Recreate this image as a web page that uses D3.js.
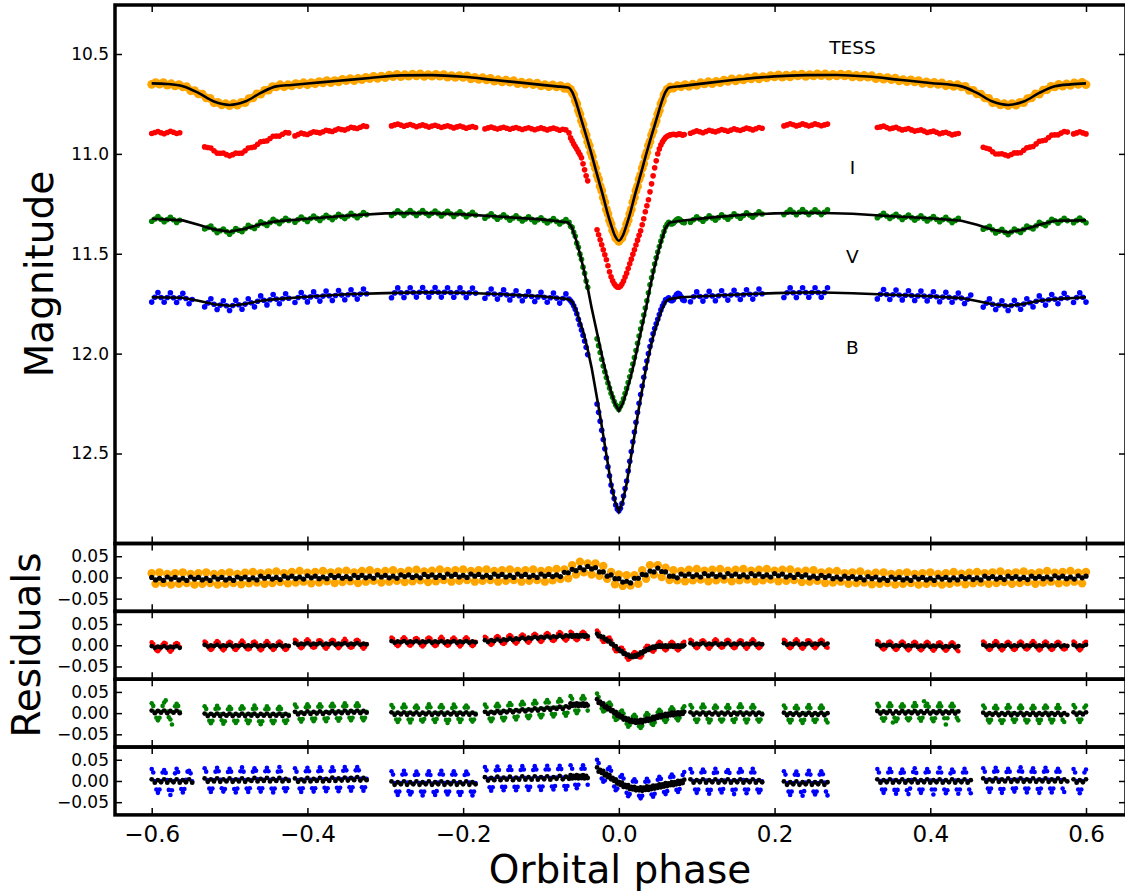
<!DOCTYPE html>
<html><head><meta charset="utf-8">
<script src="https://cdn.jsdelivr.net/npm/d3@7"></script>
<style>body{margin:0;background:#fff}svg{display:block}</style>
</head><body><svg id="c" width="1125" height="894"></svg>
<script>
// ---------------- DATA ----------------
const X_TICKS = [-0.6,-0.4,-0.2,0.0,0.2,0.4,0.6];
const MAG_TICKS = [10.5,11.0,11.5,12.0,12.5];
const RES_TICKS = [-0.05,0.00,0.05];
const LABELS = ["TESS","I","V","B"];
const LABEL_MAG = [10.5,11.1,11.545,12.0];

// TESS observed (three runs: start phase, step)
const TESS_START = [-0.600,-0.068,0.070];
const TESS_STEP = [0.005,0.002,0.005];
const TESS_mag = [
[10.652,10.643,10.651,10.643,10.656,10.649,10.660,10.653,10.665,10.664,
10.684,10.683,10.700,10.701,10.720,10.722,10.744,10.742,10.755,10.749,
10.758,10.748,10.756,10.742,10.743,10.723,10.720,10.700,10.701,10.682,
10.681,10.663,10.665,10.654,10.664,10.654,10.660,10.648,10.654,10.644,
10.654,10.643,10.649,10.638,10.644,10.633,10.643,10.633,10.639,10.627,
10.633,10.623,10.633,10.622,10.628,10.617,10.623,10.612,10.622,10.611,
10.618,10.606,10.613,10.602,10.613,10.604,10.611,10.601,10.609,10.600,
10.612,10.603,10.611,10.602,10.611,10.603,10.616,10.608,10.617,10.608,
10.617,10.610,10.624,10.617,10.627,10.619,10.629,10.622,10.636,10.629,
10.639,10.631,10.641,10.634,10.648,10.641,10.651,10.643,10.653,10.646,
10.660,10.653,10.663,10.655,10.665,10.658,10.672],
[10.670,10.665,10.675,10.677,10.693,10.705,10.733,10.750,10.782,10.802,
10.834,10.854,10.886,10.906,10.938,10.959,10.992,11.014,11.049,11.072,
11.106,11.128,11.162,11.184,11.218,11.242,11.278,11.300,11.332,11.352,
11.382,11.398,11.421,11.427,11.438,11.427,11.421,11.398,11.382,11.352,
11.332,11.300,11.278,11.242,11.218,11.184,11.162,11.128,11.106,11.072,
11.049,11.014,10.992,10.959,10.938,10.906,10.886,10.854,10.834,10.802,
10.782,10.750,10.733,10.705,10.693,10.677,10.675,10.665,10.670],
[10.671,10.659,10.664,10.653,10.662,10.651,10.657,10.644,10.650,10.639,
10.648,10.637,10.643,10.631,10.637,10.625,10.635,10.624,10.630,10.618,
10.624,10.613,10.624,10.613,10.620,10.608,10.615,10.605,10.616,10.606,
10.614,10.603,10.610,10.601,10.612,10.603,10.610,10.600,10.608,10.599,
10.611,10.602,10.610,10.601,10.610,10.602,10.615,10.607,10.616,10.607,
10.616,10.609,10.623,10.616,10.626,10.618,10.628,10.621,10.635,10.628,
10.638,10.630,10.640,10.633,10.647,10.640,10.650,10.642,10.652,10.645,
10.659,10.652,10.662,10.654,10.665,10.662,10.682,10.682,10.700,10.701,
10.720,10.722,10.744,10.742,10.755,10.749,10.758,10.748,10.756,10.742,
10.743,10.723,10.720,10.700,10.701,10.681,10.679,10.662,10.665,10.652,
10.661,10.650,10.657,10.645,10.652,10.642,10.653]
];
// TESS residuals (mmag), phase -0.600 step 0.005
const TESS_RES_START = [-0.600];
const TESS_RES_STEP = [0.005];
const TESS_res = [[10,-15,12,-13,8,-17,10,-15,12,-13,
8,-17,10,-15,12,-13,8,-17,10,-15,
12,-13,8,-16,11,-14,13,-12,10,-15,
12,-13,14,-11,10,-14,13,-12,15,-10,
11,-14,13,-12,15,-9,12,-13,14,-11,
16,-9,12,-13,15,-10,17,-8,13,-12,
15,-10,17,-8,13,-11,16,-9,18,-7,
14,-11,16,-9,19,-6,15,-10,17,-8,
19,-6,15,-10,17,-8,19,-6,15,-10,
17,-8,19,-6,15,-10,17,-8,19,-6,
15,-10,17,-7,20,-4,19,-2,29,7,
37,12,33,7,33,4,27,-3,13,-16,
7,-20,5,-19,5,-15,17,-3,29,7,
29,1,23,-6,17,-7,15,-9,18,-7,
20,-5,16,-9,18,-7,20,-5,16,-9,
18,-7,20,-5,16,-9,18,-7,20,-5,
16,-9,18,-8,19,-6,14,-11,16,-10,
17,-8,12,-13,14,-12,15,-10,10,-15,
12,-13,14,-12,9,-16,11,-15,12,-13,
8,-17,10,-15,12,-13,8,-17,10,-15,
12,-13,8,-17,10,-15,13,-12,9,-16,
11,-14,13,-12,10,-15,12,-13,14,-11,
10,-15,12,-13,14,-11,10,-15,12,-12,
15,-10,11,-14,13,-12,15,-10,11,-14,13]];
const TESS_res2 = [[0,-6,-2,-7,1,-4,0,-6,-2,-7,
1,-4,0,-6,-2,-7,1,-4,0,-6,
-2,-7,1,-3,1,-5,-1,-6,3,-2,
2,-4,0,-5,3,-1,3,-3,1,-4,
4,-1,3,-3,1,-3,5,0,4,-2,
2,-3,5,0,5,-1,3,-2,6,1,
5,-1,3,-2,6,2,6,0,4,-1,
7,2,6,0,5,0,8,3,7,1,
5,0,8,3,7,1,5,0,8,3,
7,1,5,0,8,3,7,1,5,0,
8,3,7,2,6,2,12,11,19,16,
23,18,26,20,23,13,13,3,6,-3,
-3,-11,-9,-13,-2,-2,7,6,15,13,
22,14,13,3,3,-1,8,4,8,2,
6,1,9,4,8,2,6,1,9,4,
8,2,6,1,9,4,8,2,6,1,
9,4,8,1,5,0,7,2,6,-1,
3,-2,5,0,4,-3,1,-4,3,-2,
2,-4,0,-6,2,-3,1,-6,-2,-7,
1,-4,0,-6,-2,-7,1,-4,0,-6,
-2,-7,1,-4,0,-6,-1,-6,2,-3,
1,-5,-1,-6,3,-2,2,-4,0,-5,
3,-2,2,-4,0,-5,3,-2,2,-3,
1,-4,4,-1,3,-3,1,-4,4,-1,3]];

// Ground-based runs (start phase, step) shared by I, V, B
const SEG_START = [-0.600,-0.532,-0.416,-0.292,-0.172,-0.062,-0.028,0.092,0.212,0.332,0.468,0.584];
const SEG_STEP  = [0.004,0.004,0.004,0.004,0.004,0.002,0.002,0.004,0.004,0.004,0.004,0.004];
const RES_STEP  = [0.002,0.002,0.002,0.002,0.002,0.002,0.002,0.002,0.002,0.002,0.002,0.002];

const I_mag = [
[10.898,10.893,10.888,10.894,10.899,10.893,10.887,10.892,10.898,10.894],
[10.965,10.968,10.971,10.984,10.996,10.997,10.996,11.004,11.010,11.004,10.996,10.997,10.996,10.984,10.971,10.968,10.965,10.952,10.939,10.937,10.935,10.923,10.912,10.911,10.911,10.902,10.893,10.895],
[10.910,10.903,10.896,10.900,10.903,10.896,10.889,10.892,10.895,10.889,10.882,10.885,10.888,10.881,10.874,10.878,10.881,10.874,10.867,10.870,10.873,10.867,10.860,10.863],
[10.860,10.855,10.851,10.856,10.862,10.857,10.853,10.858,10.864,10.859,10.855,10.860,10.866,10.861,10.857,10.862,10.868,10.863,10.859,10.864,10.870,10.865,10.861,10.866,10.872,10.867,10.863,10.868],
[10.875,10.870,10.866,10.871,10.876,10.871,10.867,10.872,10.877,10.872,10.868,10.873,10.878,10.873,10.869,10.874,10.879,10.874,10.870,10.875,10.880,10.875,10.871,10.876,10.882,10.877,10.880,10.895],
[10.920,10.935,10.950,10.963,10.976,10.990,11.003,11.020,11.050,11.080,11.110,11.135],
[11.380,11.405,11.430,11.455,11.480,11.505,11.530,11.560,11.590,11.615,11.635,11.650,11.660,11.667,11.668,11.663,11.652,11.637,11.617,11.597,11.574,11.550,11.527,11.503,11.480,11.456,11.432,11.408,11.385,11.355,11.325,11.290,11.260,11.230,11.190,11.150,11.110,11.070,11.035,11.000,10.975,10.955,10.940,10.928,10.918,10.912,10.908,10.905,10.903,10.902,10.903,10.905,10.902,10.900,10.903,10.906,10.903],
[10.897,10.891,10.885,10.889,10.894,10.888,10.882,10.886,10.890,10.884,10.878,10.882,10.887,10.881,10.875,10.879,10.883,10.877,10.871,10.875,10.880,10.874,10.868,10.872],
[10.860,10.855,10.849,10.854,10.860,10.856,10.850,10.855,10.861,10.856,10.850,10.854,10.859,10.855,10.851],
[10.868,10.865,10.861,10.868,10.874,10.871,10.867,10.874,10.880,10.877,10.873,10.880,10.886,10.883,10.880,10.886,10.893,10.889,10.886,10.892,10.899,10.895,10.892,10.898,10.905,10.901,10.898],
[10.967,10.972,10.976,10.989,11.001,11.001,10.999,11.005,11.010,11.003,10.995,10.995,10.994,10.982,10.969,10.966,10.963,10.950,10.937,10.934,10.931,10.918,10.906,10.905,10.905,10.896,10.888,10.891],
[10.900,10.895,10.889,10.895,10.900]
];
const V_mag = [
[11.337,11.326,11.314,11.327,11.340,11.329,11.318,11.330,11.343,11.332],
[11.376,11.369,11.361,11.378,11.394,11.385,11.376,11.389,11.402,11.389,11.374,11.382,11.390,11.375,11.358,11.366,11.373,11.357,11.340,11.349,11.358,11.343,11.328,11.338,11.349,11.335,11.322,11.333],
[11.342,11.329,11.316,11.327,11.338,11.324,11.311,11.322,11.333,11.320,11.307,11.318,11.329,11.316,11.303,11.313,11.324,11.311,11.298,11.309,11.320,11.307,11.294,11.304],
[11.309,11.297,11.285,11.296,11.308,11.296,11.284,11.296,11.308,11.296,11.284,11.297,11.309,11.297,11.286,11.298,11.311,11.299,11.288,11.300,11.313,11.301,11.290,11.302,11.315,11.304,11.293,11.306],
[11.322,11.311,11.300,11.314,11.327,11.316,11.305,11.318,11.332,11.321,11.310,11.323,11.336,11.326,11.315,11.328,11.341,11.330,11.320,11.333,11.346,11.335,11.324,11.338,11.351,11.340,11.329,11.343],
[11.362,11.368,11.392,11.413,11.447,11.468,11.502,11.528,11.567,11.598,11.637,11.668],
[11.926,11.960,11.994,12.028,12.062,12.091,12.120,12.147,12.172,12.198,12.219,12.240,12.257,12.268,12.280,12.263,12.247,12.226,12.200,12.174,12.145,12.116,12.085,12.052,12.020,11.984,11.948,11.912,11.877,11.842,11.807,11.772,11.735,11.695,11.655,11.620,11.586,11.551,11.520,11.491,11.464,11.437,11.412,11.389,11.366,11.353,11.343,11.348,11.351,11.347,11.338,11.330,11.325,11.328,11.335,11.342,11.345],
[11.342,11.329,11.315,11.326,11.337,11.324,11.310,11.321,11.332,11.319,11.305,11.316,11.327,11.314,11.300,11.311,11.322,11.309,11.295,11.306,11.317,11.304,11.290,11.301],
[11.304,11.292,11.280,11.292,11.305,11.292,11.279,11.292,11.304,11.292,11.280,11.292,11.304,11.292,11.280],
[11.320,11.309,11.298,11.311,11.324,11.313,11.302,11.315,11.328,11.317,11.306,11.319,11.332,11.321,11.310,11.323,11.336,11.325,11.314,11.327,11.340,11.329,11.318,11.331,11.344,11.333,11.322],
[11.377,11.370,11.363,11.380,11.396,11.387,11.378,11.392,11.405,11.391,11.376,11.385,11.393,11.378,11.361,11.369,11.376,11.360,11.343,11.351,11.359,11.343,11.327,11.335,11.347,11.334,11.322,11.334],
[11.345,11.333,11.321,11.333,11.345]
];
const B_mag = [
[11.742,11.718,11.694,11.719,11.743,11.719,11.695,11.720,11.744,11.720,11.698,11.724,11.750,11.729],
[11.766,11.746,11.725,11.753,11.779,11.757,11.735,11.760,11.784,11.759,11.733,11.755,11.778,11.752,11.725,11.745,11.766,11.738,11.711,11.733,11.756,11.730,11.704,11.727,11.750,11.725,11.700,11.723],
[11.744,11.719,11.694,11.717,11.741,11.716,11.691,11.714,11.737,11.712,11.687,11.710,11.734,11.709,11.684,11.707,11.730,11.705,11.680,11.704,11.727,11.702,11.677,11.700],
[11.720,11.696,11.671,11.695,11.719,11.694,11.670,11.694,11.717,11.693,11.669,11.693,11.717,11.693,11.669,11.693,11.717,11.693,11.670,11.694,11.718,11.694,11.671,11.695,11.719,11.696,11.672,11.697],
[11.723,11.700,11.677,11.702,11.727,11.704,11.681,11.706,11.731,11.708,11.685,11.710,11.735,11.712,11.689,11.714,11.739,11.716,11.693,11.718,11.743,11.720,11.697,11.722,11.747,11.724,11.701,11.727],
[11.735,11.745,11.760,11.778,11.800,11.828,11.855,11.882,11.908,11.937,11.968,12.005],
[12.252,12.294,12.338,12.384,12.430,12.476,12.521,12.567,12.612,12.658,12.691,12.725,12.758,12.778,12.786,12.774,12.750,12.713,12.675,12.638,12.588,12.539,12.490,12.441,12.392,12.344,12.295,12.249,12.205,12.162,12.118,12.075,12.037,12.000,11.964,11.933,11.901,11.874,11.851,11.828,11.804,11.781,11.762,11.747,11.731,11.727,11.721,11.732,11.735,11.730,11.717,11.704,11.698,11.703,11.716,11.730,11.734],
[11.740,11.715,11.691,11.714,11.737,11.713,11.688,11.711,11.735,11.710,11.685,11.709,11.732,11.707,11.683,11.706,11.729,11.705,11.680,11.703,11.727,11.702,11.677,11.700],
[11.719,11.695,11.671,11.695,11.719,11.694,11.670,11.694,11.718,11.694,11.670,11.694,11.718,11.694,11.670],
[11.726,11.703,11.679,11.704,11.729,11.705,11.682,11.707,11.731,11.708,11.685,11.709,11.734,11.711,11.687,11.712,11.736,11.713,11.690,11.715,11.740,11.717,11.693,11.718,11.743,11.720,11.697,11.722,11.749,11.728,11.707],
[11.767,11.747,11.726,11.753,11.779,11.757,11.735,11.760,11.784,11.759,11.733,11.755,11.778,11.752,11.725,11.745,11.766,11.738,11.711,11.733,11.757,11.730,11.704,11.727,11.750,11.724,11.698,11.721],
[11.744,11.719,11.695,11.718,11.742]
];

// Residuals (mmag). Colour: binary-model residuals (step RES_STEP); black: binary+pulsation (step SEG_STEP)
const I_res = [
[7,3,-4,-12,-14,-10,-4,2,6,4,-5,-11,-15,-11,-3,3,5,3,-4],
[9,6,-1,-8,-11,-8,-1,6,10,7,0,-8,-12,-8,-1,5,8,6,-2,-9,-11,-7,0,6,11,7,-1,-8,-10,-8,-1,7,9,5,-1,-9,-12,-9,-2,6,10,6,0,-7,-11,-8,-1,6,9,6,-1,-8,-11,-8,-1],
[13,10,3,-4,-7,-4,3,10,14,10,4,-4,-6,-4,3,11,12,9,2,-5,-8,-4,3,10,13,11,4,-3,-7,-3,4,10,15,10,3,-4,-6,-4,3,11,13,10,3,-4,-8,-4,3],
[18,15,8,1,-2,1,8,15,19,15,9,1,-1,2,8,15,17,14,7,0,-3,1,8,16,18,16,9,1,-2,0,7,15,20,15,8,2,-1,1,9,15,18,14,8,1,-3,1,8,15,19,15,8,1,-2,1,8],
[20,17,10,4,1,4,11,19,22,19,12,5,3,6,13,21,24,21,14,7,4,8,15,22,25,23,16,9,6,10,17,24,27,24,18,11,8,11,18,26,29,26,19,12,10,13,20,27,31,28,21,14,11,15,22],
[32,29,22,15,12,15,22,29,32,29,22,15],
[35,30,21,13,8,9,13,17,18,12,2,-8,-14,-14,-10,-6,-6,-11,-20,-29,-34,-32,-26,-20,-16,-18,-23,-28,-29,-24,-15,-6,-1,-2,-7,-13,-15,-11,-3,4,8,5,-2,-9,-12,-9,-2,5,8,5,-2,-9,-12,-9,-2,5,8],
[13,10,3,-4,-7,-4,3,10,12,9,3,-5,-8,-4,2,10,14,11,4,-3,-6,-4,3,11,13,10,2,-4,-7,-5,3,9,12,10,3,-4,-8,-4,4,10,14,10,3,-4,-7,-4,3],
[13,10,3,-4,-7,-4,3,10,14,10,2,-5,-8,-4,3,11,12,9,4,-4,-7,-3,3,10,13,10,3,-4,-6],
[10,7,0,-7,-10,-7,0,7,9,6,-1,-8,-11,-8,-1,6,9,6,-1,-8,-12,-8,-1,6,8,5,-2,-9,-12,-9,-2,5,8,5,-2,-9,-13,-9,-2,5,7,4,-3,-10,-13,-10,-3,4,7,4,-3,-10,-14],
[9,6,-1,-8,-11,-8,-1,6,10,7,0,-8,-12,-8,-1,6,8,5,-2,-9,-11,-8,-1,6,9,6,-1,-8,-10,-7,0,6,10,6,-1,-8,-12,-9,-2,6,9,6,-1,-8,-11,-8,-1,6,8,6,-1,-8,-10,-8,-1],
[9,6,-1,-8,-12,-8,-1,6,8]
];
const I_res2 = [
[-2,-6,-3,-5,-2,-6,-3,-5,-2,-6],
[1,-3,0,-2,1,-3,0,-2,1,-3,0,-2,1,-3,0,-2,1,-3,0,-2,1,-3,0,-2,1,-3,0,-2],
[5,1,4,2,5,1,4,2,5,1,4,2,5,1,4,2,5,1,4,2,5,1,4,2],
[10,6,9,7,10,6,9,7,10,6,9,7,10,6,9,7,10,6,9,7,10,6,9,7,10,6,9,7],
[12,8,12,10,14,10,14,12,16,12,16,14,18,14,18,16,20,16,20,18,21,18,21,19,23,19,23,21],
[24,20,23,21,24,20,23,21,24,20,23,21],
[27,21,22,19,20,14,14,9,10,3,3,-2,-2,-9,-9,-14,-14,-20,-19,-23,-22,-27,-25,-28,-24,-27,-22,-22,-17,-19,-14,-14,-9,-11,-6,-7,-3,-6,-2,-4,0,-4,-1,-3,0,-4,-1,-3,0,-4,-1,-3,0,-4,-1,-3,0],
[5,1,4,2,5,1,4,2,5,1,4,2,5,1,4,2,5,1,4,2,5,1,4,2],
[5,1,4,2,5,1,4,2,5,1,4,2,5,1,4],
[2,-2,1,-1,1,-3,0,-2,1,-3,0,-2,0,-4,-1,-3,0,-4,-1,-3,-1,-5,-2,-4,-1,-5,-2],
[1,-3,0,-2,1,-3,0,-2,1,-3,0,-2,1,-3,0,-2,1,-3,0,-2,1,-3,0,-2,1,-3,0,-2],
[1,-3,0,-2,1]
];
const V_res = [
[23,17,3,-11,-17,-11,3,17,25,30,4,-10,-15,-27,2,16,22,17,3],
[16,10,-4,-18,-24,-18,-4,10,17,11,-3,-17,-25,-19,-5,9,15,10,-4,-18,-23,-18,-4,10,16,11,-4,-17,-24,-18,-3,10,18,11,-5,-19,-26,-19,-4,9,16,10,-4,-18,-24,-18,-4,10,15,10,-3,-18,-23,-17,-4],
[20,14,0,-14,-20,-14,0,14,21,15,1,-13,-19,-13,1,15,21,15,1,-13,-19,-12,2,16,22,16,2,-12,-18,-12,2,16,23,17,3,-11,-17,-11,3,17,23,17,3,-11,-17,-11,3],
[19,13,-1,-15,-21,-15,-1,13,20,14,0,-15,-22,-15,-1,13,18,12,-2,-16,-20,-14,-1,13,21,14,-1,-15,-21,-14,0,14,19,13,-1,-16,-23,-16,-2,12,20,14,0,-14,-21,-15,-1,13,18,13,-1,-15,-20,-15,-1],
[20,14,1,-13,-19,-13,2,16,22,16,3,-11,-17,-11,4,18,24,19,5,-9,-15,-8,6,20,27,21,7,-7,-12,-6,8,22,29,23,9,-4,-10,-4,10,25,31,25,12,-2,-8,-2,13,27,33,28,14,0,-6,1,15],
[40,34,20,6,0,6,20,34,40,34,20,6],
[46,38,25,11,4,6,14,22,25,19,5,-9,-16,-14,-5,3,6,-1,-13,-25,-32,-28,-18,-8,-4,-9,-20,-31,-35,-30,-18,-6,0,-4,-15,-25,-28,-22,-10,2,8,4,-6,-16,-21,-15,-3,8,14,9,-1,-12,-17,-11,0,11,16],
[19,13,-1,-15,-21,-15,-1,13,20,14,0,-14,-22,-16,-2,12,18,13,-1,-15,-20,-15,-1,13,19,12,-2,-16,-21,-14,0,14,21,14,-1,-15,-22,-15,-1,13,19,13,-1,-15,-20,-15,-1],
[18,12,-2,-16,-22,-16,-2,12,17,11,-3,-17,-23,-16,-1,13,19,12,-2,-16,-21,-15,-2,12,18,12,-2,-16,-22],
[22,16,2,-12,-18,-12,2,16,23,17,-22,-11,-19,-13,1,15,21,16,2,-12,-17,-12,2,16,24,17,2,-12,-18,-11,28,17,22,15,1,-13,-19,-12,2,16,23,16,2,-12,-27,-12,2,16,22,16,3,-11,-17],
[18,12,-2,-16,-22,-16,-2,12,17,11,-3,-17,-23,-17,-2,12,19,13,-1,-15,-21,-15,-2,12,18,12,-2,-16,-22,-17,-3,11,17,12,-2,-16,-23,-16,-2,12,18,13,-1,-15,-22,-16,-2,12,19,12,-2,-16,-21],
[19,13,-1,-15,-21,-15,-1,13,18]
];
const V_res2 = [
[6,0,5,1,6,0,5,1,6,0],
[-1,-7,-2,-6,-1,-7,-2,-6,-1,-7,-2,-6,-1,-7,-2,-6,-1,-7,-2,-6,-1,-7,-2,-6,-1,-7,-2,-6],
[3,-3,2,-2,4,-2,3,-1,4,-2,3,0,5,-1,4,0,6,0,5,1,6,0,5,1],
[2,-4,1,-3,2,-4,1,-3,2,-4,1,-3,2,-4,1,-3,2,-4,1,-3,2,-4,1,-3,2,-4,1,-3],
[3,-2,3,0,5,0,5,2,7,2,7,4,9,4,9,6,11,6,11,8,13,8,13,10,15,10,16,13],
[23,17,22,18,23,17,22,18,23,17,22,18],
[33,24,27,20,23,14,16,9,12,5,7,0,3,-6,-3,-10,-7,-15,-11,-16,-13,-20,-16,-21,-17,-23,-18,-22,-16,-22,-16,-19,-13,-18,-13,-16,-9,-14,-8,-11,-5,-10,-4,-7,-2,-7,-1,-5,1,-5,1,-3,2,-3,2,-2,3],
[2,-4,1,-3,2,-4,1,-3,2,-4,1,-3,2,-4,1,-3,2,-4,1,-3,2,-4,1,-3],
[1,-5,0,-4,1,-5,0,-4,1,-5,0,-4,1,-5,0],
[5,-1,4,0,5,-1,4,0,5,-1,4,0,5,-1,4,0,5,-1,4,0,5,-1,4,0,5,-1,4],
[1,-5,0,-4,1,-5,0,-4,1,-5,0,-4,1,-5,0,-4,1,-5,0,-4,1,-5,0,-4,1,-5,0,-4],
[2,-4,1,-3,2]
];
const B_res = [
[28,20,0,-20,-28,-20,0,20,26,19,2,-21,-33,-22,-1,18,29,21,0,-19,-27,-19,3,22,24,18,-1],
[30,22,2,-18,-26,-18,2,22,31,23,3,-17,-25,-19,1,21,29,22,2,-19,-27,-18,3,23,32,22,2,-18,-26,-17,2,22,30,24,4,-17,-25,-17,3,23,31,23,3,-18,-27,-18,2,22,33,23,3,-17,-24,-17,3],
[30,22,2,-18,-26,-17,3,23,31,23,3,-17,-25,-17,3,23,32,24,4,-16,-24,-17,3,23,32,24,4,-16,-24,-16,4,24,33,25,5,-15,-23,-15,5,25,33,25,5,-15,-23,-15,5],
[23,15,-5,-25,-33,-25,-5,15,24,16,-4,-24,-32,-26,-6,14,22,15,-5,-25,-34,-25,-5,15,23,14,-6,-26,-33,-24,-4,16,24,15,-5,-25,-32,-25,-5,15,23,15,-5,-26,-33,-26,-6,14,22,16,-4,-25,-34,-25,-5],
[33,25,5,-15,-23,-15,5,25,34,26,6,-14,-22,-14,6,26,34,26,6,-14,-22,-14,6,26,35,27,7,-13,-21,-14,6,26,35,27,7,-13,-21,-13,7,27,36,27,7,-13,-20,-12,8,28,36,28,8,-12,-20,-12,8],
[37,29,10,-9,-17,-9,10,29,37,29,10,-9],
[50,42,24,6,-2,1,15,28,32,24,5,-13,-22,-18,-4,10,14,6,-11,-28,-36,-31,-16,-1,4,-2,-19,-35,-41,-35,-18,-2,5,-1,-16,-32,-37,-30,-13,3,10,5,-10,-26,-31,-24,-8,9,15,10,-5,-21,-26,-19,-2,14,21],
[28,20,0,-20,-28,-20,0,20,27,21,1,-21,-30,-21,-1,19,29,20,0,-20,-27,-19,1,21,26,19,-1,-21,-31,-20,0,20,28,22,2,-20,-29,-20,0,20,29,20,0,-20,-27,-21,-1],
[23,15,-5,-25,-33,-25,-5,15,22,14,-6,-26,-35,-24,-4,16,24,15,-5,-25,-32,-25,-5,15,23,16,-4,-25,-34],
[28,20,0,-20,-28,-20,0,20,29,21,1,-21,-30,-21,-1,19,27,20,0,-22,-31,-18,2,21,30,19,-1,-20,-28,-20,0,20,28,21,1,-20,-32,-20,0,20,31,20,0,-20,-29,-22,-2,18,27,21,1,-20,-30,-20,0,20,29,20,0,-20,-29],
[30,22,2,-18,-26,-18,2,22,31,23,3,-19,-28,-19,1,21,29,22,2,-18,-25,-17,3,23,32,22,2,-18,-27,-18,2,22,30,21,1,-19,-28,-18,2,22,31,23,3,-18,-27,-18,2,22,29,22,2,-18,-26],
[28,20,0,-20,-29,-20,0,20,27]
];
const B_res2 = [
[4,-4,2,-3,4,-4,2,-3,4,-4,2,-3,4,-4],
[6,-2,4,-1,6,-2,4,-1,6,-2,4,-1,6,-2,4,0,7,-1,5,0,7,-1,5,0,7,-1,5,0],
[6,-2,4,-1,7,-1,5,0,7,-1,5,0,8,0,6,1,8,1,7,2,9,1,7,2],
[-1,-9,-3,-8,-1,-9,-3,-8,-1,-9,-3,-8,-1,-9,-3,-8,-1,-9,-3,-8,-1,-9,-3,-8,-1,-9,-3,-8],
[9,1,7,2,10,2,8,3,10,2,8,3,11,3,9,3,11,3,9,4,11,3,9,5,12,4,10,5],
[14,6,12,7,14,6,12,7,14,6,12,7],
[32,22,26,19,24,13,17,9,14,4,7,0,4,-6,-2,-9,-4,-14,-9,-15,-10,-19,-14,-20,-14,-22,-17,-22,-15,-23,-16,-21,-13,-21,-14,-19,-11,-18,-11,-16,-8,-15,-8,-13,-5,-12,-6,-10,-3,-10,-3,-8,0,-7,0,-5,3],
[4,-4,2,-3,4,-4,2,-3,4,-4,2,-3,4,-4,2,-3,4,-4,2,-3,4,-4,2,-3],
[-1,-9,-3,-8,-1,-9,-3,-8,-1,-9,-3,-8,-1,-9,-3],
[4,-4,2,-3,4,-4,2,-3,4,-4,2,-3,4,-4,2,-3,4,-4,2,-3,4,-4,2,-3,4,-4,2,-3,4,-4,2],
[6,-2,4,-1,6,-2,4,-1,6,-2,4,-1,6,-2,4,-1,6,-2,4,-1,6,-2,4,-1,6,-2,4,-1],
[4,-4,2,-3,4]
];

// Binary models (phase, mag)
const TESS_model = [[-0.60,10.647],[-0.58,10.650],[-0.56,10.661],[-0.54,10.695],[-0.52,10.738],[-0.50,10.755],[-0.48,10.738],[-0.46,10.695],[-0.44,10.662],[-0.42,10.655],[-0.40,10.648],[-0.36,10.634],[-0.32,10.620],[-0.28,10.607],[-0.24,10.606],[-0.20,10.614],[-0.16,10.630],[-0.12,10.646],[-0.08,10.662],[-0.065,10.668],[-0.06,10.690],[-0.055,10.740],[-0.05,10.805],[-0.045,10.870],[-0.04,10.935],[-0.035,11.003],[-0.03,11.075],[-0.025,11.145],[-0.02,11.215],[-0.015,11.290],[-0.01,11.355],[-0.005,11.410],[0,11.435],[0.005,11.410],[0.01,11.355],[0.015,11.290],[0.02,11.215],[0.025,11.145],[0.03,11.075],[0.035,11.003],[0.04,10.935],[0.045,10.870],[0.05,10.805],[0.055,10.740],[0.06,10.690],[0.065,10.668],[0.08,10.661],[0.12,10.642],[0.16,10.625],[0.20,10.612],[0.24,10.606],[0.28,10.605],[0.32,10.613],[0.36,10.629],[0.40,10.645],[0.44,10.662],[0.46,10.695],[0.48,10.738],[0.50,10.755],[0.52,10.738],[0.54,10.695],[0.56,10.662],[0.58,10.652],[0.60,10.647]];
const V_model = [[-0.60,11.325],[-0.56,11.333],[-0.54,11.355],[-0.52,11.378],[-0.50,11.390],[-0.48,11.375],[-0.46,11.352],[-0.44,11.338],[-0.40,11.325],[-0.35,11.310],[-0.30,11.298],[-0.25,11.296],[-0.20,11.303],[-0.15,11.315],[-0.10,11.328],[-0.065,11.343],[-0.06,11.370],[-0.055,11.43],[-0.05,11.50],[-0.045,11.58],[-0.04,11.67],[-0.035,11.77],[-0.03,11.86],[-0.025,11.95],[-0.02,12.04],[-0.015,12.12],[-0.01,12.19],[-0.005,12.25],[0,12.285],[0.005,12.25],[0.01,12.19],[0.015,12.12],[0.02,12.04],[0.025,11.95],[0.03,11.86],[0.035,11.77],[0.04,11.67],[0.045,11.58],[0.05,11.50],[0.055,11.43],[0.06,11.370],[0.065,11.343],[0.08,11.335],[0.12,11.318],[0.16,11.305],[0.20,11.298],[0.25,11.295],[0.30,11.300],[0.35,11.312],[0.40,11.322],[0.44,11.335],[0.46,11.355],[0.48,11.380],[0.50,11.393],[0.52,11.378],[0.54,11.355],[0.56,11.335],[0.60,11.333]];
const B_model = [[-0.60,11.718],[-0.56,11.720],[-0.54,11.735],[-0.52,11.753],[-0.50,11.760],[-0.48,11.752],[-0.46,11.735],[-0.44,11.727],[-0.40,11.715],[-0.35,11.703],[-0.30,11.697],[-0.25,11.693],[-0.20,11.695],[-0.15,11.703],[-0.10,11.713],[-0.065,11.727],[-0.06,11.74],[-0.055,11.78],[-0.05,11.84],[-0.045,11.90],[-0.04,11.98],[-0.035,12.07],[-0.03,12.18],[-0.025,12.29],[-0.02,12.41],[-0.015,12.53],[-0.01,12.65],[-0.005,12.74],[0,12.79],[0.005,12.74],[0.01,12.65],[0.015,12.53],[0.02,12.41],[0.025,12.29],[0.03,12.18],[0.035,12.07],[0.04,11.98],[0.045,11.90],[0.05,11.84],[0.055,11.78],[0.06,11.74],[0.065,11.727],[0.08,11.718],[0.12,11.710],[0.16,11.703],[0.20,11.697],[0.25,11.693],[0.30,11.698],[0.35,11.705],[0.40,11.713],[0.44,11.722],[0.46,11.737],[0.48,11.753],[0.50,11.760],[0.52,11.752],[0.54,11.735],[0.56,11.727],[0.60,11.718]];

// ---------------- DRAWING ----------------
const FONT = "DejaVu Sans, Liberation Sans, sans-serif";
const svg = d3.select('#c');
const L = 115, R = 1126, MT = 5, MB = 543.5;
const PH = 67.85, PT = [543.5, 543.5+PH, 543.5+2*PH, 543.5+3*PH];
const x = d3.scaleLinear().domain([-0.6,0.6]).range([151.7,1086]);
const yM = d3.scaleLinear().domain([10.5,12.5]).range([54,453.5]);
const yR = PT.map(t => d3.scaleLinear().domain([-0.08,0.08]).range([t+PH, t]));

function expand(starts, steps, arrs, k) {
  const out = [];
  arrs.forEach((a, s) => a.forEach((v, i) => out.push([starts[s] + i*steps[s], v*k])));
  return out;
}
const defs = svg.append('defs');
function clip(id, y0, y1) {
  defs.append('clipPath').attr('id', id).append('rect')
    .attr('x', L).attr('y', y0).attr('width', R-L).attr('height', y1-y0);
  return svg.append('g').attr('clip-path', `url(#${id})`);
}
function dots(g, pts, ys, r, col) {
  g.append('g').selectAll('circle').data(pts).join('circle')
    .attr('cx', d => x(d[0])).attr('cy', d => ys(d[1])).attr('r', r).attr('fill', col);
}
function model(g, pts, ys, curve) {
  g.append('path').datum(pts).attr('fill','none').attr('stroke','#000').attr('stroke-width',2.6)
    .attr('d', d3.line().x(d => x(d[0])).y(d => ys(d[1])).curve(curve));
}

// main panel
const gm = clip('cm', MT, MB);
dots(gm, expand(TESS_START, TESS_STEP, TESS_mag, 1), yM, 4.4, '#FFA500');
model(gm, TESS_model, yM, d3.curveMonotoneX);
dots(gm, expand(SEG_START, SEG_STEP, I_mag, 1), yM, 2.8, '#FF0000');
dots(gm, expand(SEG_START, SEG_STEP, V_mag, 1), yM, 2.8, '#008000');
model(gm, V_model, yM, d3.curveLinear);
dots(gm, expand(SEG_START, SEG_STEP, B_mag, 1), yM, 2.8, '#0000FF');
model(gm, B_model, yM, d3.curveLinear);

// residual panels
const resSets = [
  [TESS_RES_START, TESS_RES_STEP, TESS_RES_STEP, TESS_res, TESS_res2, '#FFA500', 4.2, 2.6],
  [SEG_START, RES_STEP, SEG_STEP, I_res, I_res2, '#FF0000', 2.3, 2.4],
  [SEG_START, RES_STEP, SEG_STEP, V_res, V_res2, '#008000', 2.3, 2.4],
  [SEG_START, RES_STEP, SEG_STEP, B_res, B_res2, '#0000FF', 2.3, 2.4]
];
resSets.forEach((s, k) => {
  const g = clip('cr'+k, PT[k], PT[k]+PH);
  dots(g, expand(s[0], s[1], s[3], 0.001), yR[k], s[6], s[5]);
  dots(g, expand(s[0], s[2], s[4], 0.001), yR[k], s[7], '#000');
});

// axes
function styleAxis(g, size) {
  g.select('.domain').remove();
  g.selectAll('.tick line').attr('stroke','#000').attr('stroke-width',1.5);
  g.selectAll('text').attr('fill','#000').attr('font-family',FONT).attr('font-size',size);
}
function frame(y0, y1, ys, yt, fmt, xlabels) {
  const gl = svg.append('g').attr('transform',`translate(${L},0)`)
    .call(d3.axisLeft(ys).tickValues(yt).tickSizeInner(-7).tickSizeOuter(0).tickPadding(6).tickFormat(d3.format(fmt)));
  styleAxis(gl, 17);
  const gr = svg.append('g').attr('transform',`translate(${R},0)`)
    .call(d3.axisRight(ys).tickValues(yt).tickSizeInner(-7).tickSizeOuter(0).tickFormat(''));
  styleAxis(gr, 17);
  const gt = svg.append('g').attr('transform',`translate(0,${y0})`)
    .call(d3.axisTop(x).tickValues(X_TICKS).tickSizeInner(-7).tickSizeOuter(0).tickFormat(''));
  styleAxis(gt, 17);
  const gb = svg.append('g').attr('transform',`translate(0,${y1})`)
    .call(d3.axisBottom(x).tickValues(X_TICKS).tickSizeInner(-7).tickSizeOuter(0).tickPadding(11)
      .tickFormat(xlabels ? d3.format('.1f') : ''));
  styleAxis(gb, 23);
  svg.append('rect').attr('x',L).attr('y',y0).attr('width',R-L).attr('height',y1-y0)
    .attr('fill','none').attr('stroke','#000').attr('stroke-width',3.5);
}
frame(MT, MB, yM, MAG_TICKS, '.1f', false);
PT.forEach((t, k) => frame(t, t+PH, yR[k], RES_TICKS, '.2f', k === 3));

// band labels
svg.append('g').selectAll('text').data(LABELS).join('text')
  .attr('x', x(0.3)).attr('y', (d, i) => yM(LABEL_MAG[i]))
  .attr('text-anchor','middle').attr('font-family',FONT).attr('font-size',18.5).attr('fill','#000')
  .text(d => d);

// axis titles
svg.append('text').attr('transform','translate(53,274) rotate(-90)').attr('text-anchor','middle')
  .attr('font-family',FONT).attr('font-size',39).text('Magnitude');
svg.append('text').attr('transform','translate(40,645) rotate(-90)').attr('text-anchor','middle')
  .attr('font-family',FONT).attr('font-size',39).text('Residuals');
svg.append('text').attr('x',620).attr('y',883).attr('text-anchor','middle')
  .attr('font-family',FONT).attr('font-size',39).text('Orbital phase');
</script>
</body></html>
